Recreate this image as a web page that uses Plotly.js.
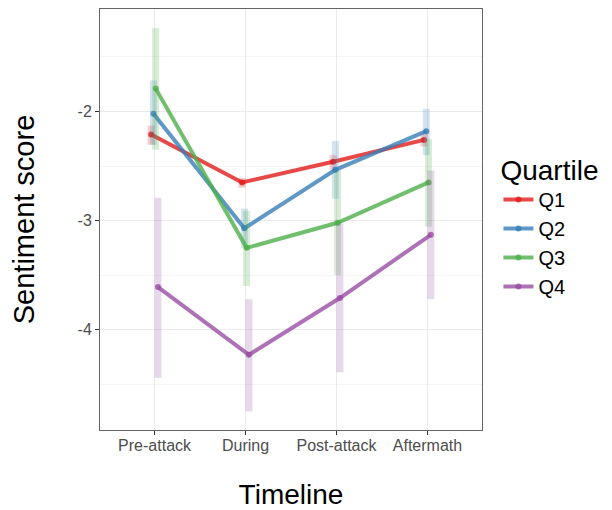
<!DOCTYPE html>
<html>
<head>
<meta charset="utf-8">
<script src="https://cdn.plot.ly/plotly-3.0.1.min.js"></script>
<style>html,body{margin:0;padding:0;background:#fff}#chart{width:612px;height:510px}</style>
</head>
<body>
<div id="chart"></div>
<script>
const timeline = ["Pre-attack", "During", "Post-attack", "Aftermath"];
const quartiles = ["Q1", "Q2", "Q3", "Q4"];
const colors = ["#E41A1C", "#377EB8", "#4DAF4A", "#984EA3"];

const meanQ1 = [-2.21, -2.65, -2.46, -2.26];
const meanQ2 = [-2.02, -3.07, -2.535, -2.18];
const meanQ3 = [-1.79, -3.25, -3.02, -2.65];
const meanQ4 = [-3.61, -4.23, -3.71, -3.13];

const lowQ1 = [-2.305, -2.70, -2.535, -2.32];
const lowQ2 = [-2.305, -3.25, -2.80, -2.40];
const lowQ3 = [-2.35, -3.60, -3.50, -3.055];
const lowQ4 = [-4.44, -4.75, -4.39, -3.72];

const highQ1 = [-2.13, -2.61, -2.40, -2.20];
const highQ2 = [-1.715, -2.89, -2.27, -1.975];
const highQ3 = [-1.235, -2.91, -2.54, -2.25];
const highQ4 = [-2.79, -3.72, -3.03, -2.54];

const means = [meanQ1, meanQ2, meanQ3, meanQ4];
const lows = [lowQ1, lowQ2, lowQ3, lowQ4];
const highs = [highQ1, highQ2, highQ3, highQ4];

function rgba(hex, a) {
  const r = parseInt(hex.slice(1,3),16), g = parseInt(hex.slice(3,5),16), b = parseInt(hex.slice(5,7),16);
  return `rgba(${r},${g},${b},${a})`;
}

const dodgeWidth = 0.1;
const traces = quartiles.map((q, k) => {
  const off = (k - 1.5) * dodgeWidth / 4;
  const x = timeline.map((_, i) => i + 1 + off);
  const y = means[k];
  return {
    type: "scatter", mode: "lines+markers", name: q,
    x: x, y: y,
    line: {color: rgba(colors[k], 0.8), width: 4},
    marker: {color: rgba(colors[k], 0.8), size: 6},
    error_y: {
      type: "data", symmetric: false,
      array: y.map((v, i) => highs[k][i] - v),
      arrayminus: y.map((v, i) => v - lows[k][i]),
      color: rgba(colors[k], 0.22), thickness: 7, width: 0
    }
  };
});

const layout = {
  width: 612, height: 510,
  margin: {l: 100, r: 130, t: 9, b: 80},
  paper_bgcolor: "#fff", plot_bgcolor: "#fff",
  font: {family: "Liberation Sans, Arial, sans-serif", color: "#000"},
  xaxis: {
    range: [0.4, 4.6],
    tickvals: [1, 2, 3, 4], ticktext: timeline,
    tickfont: {size: 16, color: "#4d4d4d"},
    ticks: "outside", ticklen: 4, tickcolor: "#333", tickwidth: 1,
    ticklabelstandoff: -3,
    showgrid: true, gridcolor: "#ebebeb", gridwidth: 1,
    showline: true, mirror: true, linecolor: "#666", linewidth: 1,
    zeroline: false,
    title: {text: "Timeline", font: {size: 28, color: "#000"}, standoff: 35}
  },
  yaxis: {
    range: [-4.92, -1.06],
    tickvals: [-4, -3, -2], ticktext: ["-4", "-3", "-2"],
    tickfont: {size: 16, color: "#4d4d4d"},
    ticks: "outside", ticklen: 4, tickcolor: "#333", tickwidth: 1,
    showgrid: true, gridcolor: "#ebebeb", gridwidth: 1,
    minor: {tickvals: [-4.5, -3.5, -2.5, -1.5], showgrid: true, gridcolor: "#f5f5f5", gridwidth: 1, ticks: ""},
    showline: true, mirror: true, linecolor: "#666", linewidth: 1,
    zeroline: false,
    title: {text: "Sentiment score", font: {size: 29, color: "#000"}, standoff: 34}
  },
  legend: {
    x: 1.043, xanchor: "left", y: 0.68, yanchor: "top",
    title: {text: "Quartile", font: {size: 28, color: "#000"}},
    font: {size: 20, color: "#000"},
    tracegroupgap: 0, itemwidth: 30
  },
  showlegend: true
};

Plotly.newPlot("chart", traces, layout, {displayModeBar: false, staticPlot: true});
</script>
</body>
</html>
